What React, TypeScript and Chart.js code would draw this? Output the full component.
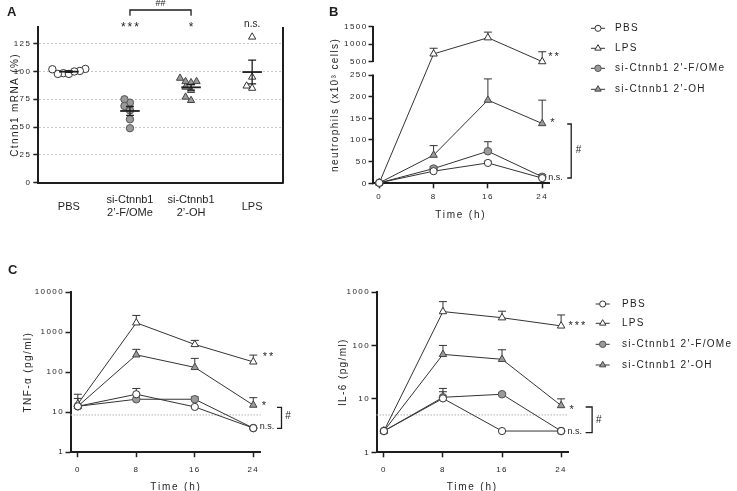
import React, { useEffect, useRef } from "react";
import { Chart, registerables } from "chart.js";

Chart.register(...registerables);

const FONT = "'Liberation Sans', Arial, Helvetica, sans-serif";
const INK = "#1e1e1e";
const LINE = "#333333";
Chart.defaults.font.family = FONT;

// ---------- shared ----------
const seriesNames = ["PBS", "LPS", "si-Ctnnb1 2'-F/OMe", "si-Ctnnb1 2'-OH"];
const hours = [0, 8, 16, 24];
const hourTicks = [0, 8, 16, 24];

// ---------- Panel A ----------
const aGroupLabels = [["PBS"], ["si-Ctnnb1", "2’-F/OMe"], ["si-Ctnnb1", "2’-OH"], ["LPS"]];
const aPBS = [102.3, 100.5, 98.5, 97.8, 97.8, 100, 102];
const aSiFOMe = [72, 75, 69, 65, 57, 49];
const aSiOH = [91, 90, 94, 91, 74, 77, 83, 86];
const aLPS = [131, 95, 85, 87];
const aYTicks = [0, 25, 50, 75, 100, 125];
const aSignif = ["", "***", "*", "n.s."];
const aBracket = "##";

// ---------- Panel B ----------
const bPBS = [1, 28, 47, 12];
const bPBSErr = [0, 3, 4, 2];
const bLPS = [1, 720, 1180, 500];
const bLPSErr = [0, 160, 160, 280];
const bSiFOMe = [1, 34, 74, 15];
const bSiFOMeErr = [0, 4, 22, 5];
const bSiOH = [1, 65, 192, 138];
const bSiOHErr = [0, 22, 49, 54];
const bYTicks = [0, 50, 100, 150, 200, 250, 500, 1000, 1500];
const bSignif = ["**", "*", "n.s."];
const bBracket = "#";

// ---------- Panel C: TNF-α ----------
const tnfPBS = [14, 28, 13.5, 4];
const tnfPBSErr = [0, 11, 0, 0];
const tnfLPS = [16, 1700, 490, 180];
const tnfLPSErr = [12, 900, 130, 86];
const tnfSiFOMe = [14, 21, 21, 4];
const tnfSiFOMeErr = [0, 0, 3, 0];
const tnfSiOH = [14, 270, 131, 15];
const tnfSiOHErr = [8, 100, 89, 8];
const tnfLimit = 8.5;
const tnfYTicks = [1, 10, 100, 1000, 10000];
const tnfSignif = ["**", "*", "n.s."];

// ---------- Panel C: IL-6 ----------
const il6PBS = [2.5, 10.2, 2.5, 2.5];
const il6PBSErr = [0, 3.4, 0, 0];
const il6LPS = [2.5, 430, 330, 232];
const il6LPSErr = [0, 230, 107, 140];
const il6SiFOMe = [2.5, 10.7, 12.2, 2.5];
const il6SiFOMeErr = [0, 5, 0.8, 0];
const il6SiOH = [2.5, 68, 55, 7.5];
const il6SiOHErr = [0, 32, 28, 2.5];
const il6Limit = 5;
const il6YTicks = [1, 10, 100, 1000];
const il6Signif = ["***", "*", "n.s."];

const cBracket = "#";

// marker styles: PBS, LPS, F/OMe, OH
const STYLES = [
  { shape: "circle", fill: "#ffffff", stroke: "#333333", r: 3.6 },
  { shape: "triangle", fill: "#ffffff", stroke: "#333333", r: 4.3 },
  { shape: "circle", fill: "#9a9a9a", stroke: "#555555", r: 3.8 },
  { shape: "triangle", fill: "#9a9a9a", stroke: "#444444", r: 4.3 },
];

// broken axis mapping for panel B (0-250 | break | 500-1500)
const bV = (v: number) => (v <= 250 ? v : 250 + 31 + (v - 500) * 0.081);

// ---------- helpers ----------
function drawText(ctx: any, s: string, x: number, y: number, o: any = {}) {
  ctx.save();
  ctx.letterSpacing = `${o.spacing ?? 0}px`;
  ctx.font = `${o.bold ? "bold " : ""}${o.size ?? 10}px ${FONT}`;
  ctx.fillStyle = INK;
  ctx.textAlign = o.align ?? "left";
  ctx.textBaseline = o.baseline ?? "middle";
  ctx.fillText(s, x, y);
  ctx.restore();
}

function drawStars(ctx: any, s: string, x: number, yc: number, align: string = "left", size = 11, spacing = 2) {
  drawText(ctx, s, x, yc + 0.55 * size, { size, spacing, align, baseline: "alphabetic" });
}

function drawMarker(ctx: any, shape: string, x: number, y: number, r: number, fill: string, stroke: string) {
  ctx.save();
  ctx.beginPath();
  if (shape === "circle") {
    ctx.arc(x, y, r, 0, Math.PI * 2);
  } else {
    for (let k = 0; k < 3; k++) {
      const a = (k * 2 * Math.PI) / 3;
      const px = x + Math.sin(a) * r;
      const py = y - Math.cos(a) * r;
      if (k === 0) ctx.moveTo(px, py);
      else ctx.lineTo(px, py);
    }
  }
  ctx.closePath();
  ctx.fillStyle = fill;
  ctx.fill();
  ctx.lineWidth = 1;
  ctx.strokeStyle = stroke;
  ctx.stroke();
  ctx.restore();
}

function drawLegend(ctx: any, symX: number, textX: number, rows: number[]) {
  seriesNames.forEach((name, i) => {
    const y = rows[i];
    const st = STYLES[i];
    ctx.save();
    ctx.strokeStyle = LINE;
    ctx.lineWidth = 1;
    ctx.beginPath();
    ctx.moveTo(symX - 7, y);
    ctx.lineTo(symX + 7, y);
    ctx.stroke();
    ctx.restore();
    drawMarker(ctx, st.shape, symX, y, st.r * 0.85, st.fill, st.stroke);
    drawText(ctx, name, textX, y, { size: 10, spacing: 1.3 });
  });
}

function vBracket(ctx: any, x: number, y1: number, y2: number, stub: number) {
  ctx.save();
  ctx.strokeStyle = INK;
  ctx.lineWidth = 1.3;
  ctx.beginPath();
  ctx.moveTo(x - stub, y1);
  ctx.lineTo(x, y1);
  ctx.lineTo(x, y2);
  ctx.lineTo(x - stub, y2);
  ctx.stroke();
  ctx.restore();
}

function mean(v: number[]) {
  return v.reduce((a, b) => a + b, 0) / v.length;
}
function sem(v: number[]) {
  const m = mean(v);
  const sd = Math.sqrt(v.reduce((a, b) => a + (b - m) * (b - m), 0) / (v.length - 1));
  return sd / Math.sqrt(v.length);
}

// simple beeswarm spread (category units)
function swarmOffsets(vals: number[]) {
  const step = 0.09;
  const pxX = 61;
  const pxY = 1.11;
  const minD = 5.5;
  const order = vals.map((_, i) => i).sort((a, b) => vals[a] - vals[b]);
  const placed: { x: number; y: number }[] = [];
  const out = new Array(vals.length).fill(0);
  for (const i of order) {
    for (let k = 0; k < 30; k++) {
      const off = k === 0 ? 0 : (k % 2 ? -1 : 1) * Math.ceil(k / 2) * step;
      const ok = placed.every((p) => Math.hypot((p.x - off) * pxX, (p.y - vals[i]) * pxY) >= minD);
      if (ok) {
        out[i] = off;
        placed.push({ x: off, y: vals[i] });
        break;
      }
    }
  }
  return out;
}

// ---------- plugins ----------
const spacingPlugin = {
  id: "spacing",
  beforeDraw(chart: any, _a: any, opts: any) {
    chart.ctx.letterSpacing = `${opts && opts.px != null ? opts.px : 0}px`;
  },
};

const errorBarPlugin = {
  id: "errorBars",
  beforeDatasetsDraw(chart: any) {
    const ctx = chart.ctx;
    const yScale = chart.scales.y;
    chart.data.datasets.forEach((ds: any, i: number) => {
      if (!ds.errTop) return;
      const meta = chart.getDatasetMeta(i);
      meta.data.forEach((pt: any, j: number) => {
        const top = ds.errTop[j];
        if (top == null) return;
        const yTop = yScale.getPixelForValue(top);
        if (pt.y - yTop < 1) return;
        ctx.save();
        ctx.strokeStyle = LINE;
        ctx.lineWidth = 1;
        ctx.beginPath();
        ctx.moveTo(pt.x, pt.y);
        ctx.lineTo(pt.x, yTop);
        ctx.moveTo(pt.x - 4, yTop);
        ctx.lineTo(pt.x + 4, yTop);
        ctx.stroke();
        ctx.restore();
      });
    });
  },
};

function drawLimit(chart: any, value: number) {
  const { ctx, chartArea, scales } = chart;
  const y = scales.y.getPixelForValue(value);
  ctx.save();
  ctx.strokeStyle = "#b0b0b0";
  ctx.lineWidth = 1;
  ctx.setLineDash([1.5, 1.5]);
  ctx.beginPath();
  ctx.moveTo(chartArea.left, y);
  ctx.lineTo(chartArea.right, y);
  ctx.stroke();
  ctx.restore();
}

function lineDataset(i: number, vals: number[], errs: number[], map: (v: number) => number) {
  const st = STYLES[i];
  return {
    label: seriesNames[i],
    data: hours.map((h, k) => ({ x: h, y: map(vals[k]) })),
    errTop: vals.map((v, k) => (errs[k] > 0 ? map(v + errs[k]) : null)),
    borderColor: LINE,
    borderWidth: 1,
    tension: 0,
    fill: false,
    pointStyle: st.shape,
    pointRadius: st.r,
    pointBackgroundColor: st.fill,
    pointBorderColor: st.stroke,
    pointBorderWidth: 1,
    clip: false,
  };
}

function lineConfig(p: any) {
  return {
    type: "line",
    data: { datasets: p.datasets },
    options: {
      responsive: false,
      animation: false,
      devicePixelRatio: 1,
      events: [],
      layout: { padding: p.padding },
      plugins: {
        legend: { display: false },
        tooltip: { enabled: false },
        title: { display: false },
        spacing: { px: 1.4 },
      },
      scales: {
        x: {
          type: "linear",
          min: -1,
          max: 25,
          afterFit: (s: any) => {
            s.height = p.xHeight;
          },
          afterBuildTicks: (s: any) => {
            s.ticks = hourTicks.map((v) => ({ value: v }));
          },
          ticks: {
            color: INK,
            font: { family: FONT, size: 8 },
            padding: p.xTickPad,
            maxRotation: 0,
            autoSkip: false,
            callback: (v: any) => String(v),
          },
          grid: { display: true, drawOnChartArea: false, drawTicks: true, tickLength: 5, tickWidth: 1.5, tickColor: INK },
          border: { display: true, width: 2, color: INK },
        },
        y: {
          type: p.yType,
          min: p.yMin,
          max: p.yMax,
          afterFit: (s: any) => {
            s.width = p.yWidth;
          },
          afterBuildTicks: (s: any) => {
            s.ticks = p.yTickValues.map((v: number) => ({ value: v }));
          },
          ticks: {
            color: INK,
            font: { family: FONT, size: 8 },
            padding: p.yTickPad,
            autoSkip: false,
            callback: (v: any) => p.yLabel(Number(v)),
          },
          grid: { display: true, drawOnChartArea: false, drawTicks: true, tickLength: p.yTickLen, tickWidth: 1.5, tickColor: INK },
          border: { display: p.yBorder, width: 2, color: INK },
          title: {
            display: true,
            text: p.yTitle,
            color: INK,
            font: { family: FONT, size: 10 },
            padding: { top: p.yTitlePad, bottom: 0 },
          },
        },
      },
    },
    plugins: [spacingPlugin, errorBarPlugin, p.plugin],
  };
}

// ---------- Panel A ----------
function configA() {
  const groups = [aPBS, aSiFOMe, aSiOH, aLPS];
  const styleIdx = [0, 2, 3, 1];
  const datasets = groups.map((vals, gi) => {
    const st = STYLES[styleIdx[gi]];
    const offs = swarmOffsets(vals);
    return {
      type: "scatter",
      data: vals.map((v, k) => ({ x: gi + offs[k], y: v })),
      pointStyle: st.shape,
      pointRadius: st.shape === "circle" ? 3.7 : 4.2,
      pointBackgroundColor: st.fill,
      pointBorderColor: st.stroke,
      pointBorderWidth: 1,
      clip: false,
    };
  });

  const plugin = {
    id: "panelA",
    afterDatasetsDraw(chart: any) {
      const { ctx, scales } = chart;
      const x = scales.x;
      const y = scales.y;
      groups.forEach((vals, gi) => {
        const m = mean(vals);
        const se = sem(vals);
        const cx = x.getPixelForValue(gi);
        const half = x.getPixelForValue(gi + 0.16) - cx;
        const cap = x.getPixelForValue(gi + 0.065) - cx;
        ctx.save();
        ctx.strokeStyle = INK;
        ctx.lineWidth = 1.8;
        ctx.beginPath();
        ctx.moveTo(cx - half, y.getPixelForValue(m));
        ctx.lineTo(cx + half, y.getPixelForValue(m));
        ctx.stroke();
        ctx.lineWidth = 1.3;
        ctx.beginPath();
        ctx.moveTo(cx, y.getPixelForValue(m - se));
        ctx.lineTo(cx, y.getPixelForValue(m + se));
        ctx.moveTo(cx - cap, y.getPixelForValue(m - se));
        ctx.lineTo(cx + cap, y.getPixelForValue(m - se));
        ctx.moveTo(cx - cap, y.getPixelForValue(m + se));
        ctx.lineTo(cx + cap, y.getPixelForValue(m + se));
        ctx.stroke();
        ctx.restore();
      });
    },
    afterDraw(chart: any) {
      const { ctx, chartArea, scales } = chart;
      const x = scales.x;
      // right frame line
      ctx.save();
      ctx.strokeStyle = INK;
      ctx.lineWidth = 2;
      ctx.beginPath();
      const rx = Math.round(chartArea.right);
      ctx.moveTo(rx, chartArea.top);
      ctx.lineTo(rx, chartArea.bottom + 1);
      ctx.stroke();
      ctx.restore();
      // category labels
      aGroupLabels.forEach((lines, gi) => {
        const cx = x.getPixelForValue(gi);
        lines.forEach((ln, k) => {
          const yy = chartArea.bottom + 23.8 + (k - (lines.length - 1) / 2) * 12.2;
          drawText(ctx, ln, cx, yy, { size: 11, align: "center" });
        });
      });
      // significance marks
      aSignif.forEach((s, gi) => {
        if (!s) return;
        const cx = x.getPixelForValue(gi);
        if (s.startsWith("*")) drawStars(ctx, s, cx + 1, 24.2, "center", 12, 2);
        else drawText(ctx, s, cx, 26.7, { size: 10, align: "center", baseline: "alphabetic" });
      });
      // bracket between si groups
      const x1 = x.getPixelForValue(1);
      const x2 = x.getPixelForValue(2);
      ctx.save();
      ctx.strokeStyle = INK;
      ctx.lineWidth = 1.3;
      ctx.beginPath();
      ctx.moveTo(x1, 15.7);
      ctx.lineTo(x1, 10);
      ctx.lineTo(x2, 10);
      ctx.lineTo(x2, 15.7);
      ctx.stroke();
      ctx.restore();
      drawText(ctx, aBracket, (x1 + x2) / 2, 5.5, { size: 9, align: "center", baseline: "alphabetic" });
      drawText(ctx, "A", 7, 15.5, { size: 13, bold: true, baseline: "alphabetic" });
    },
  };

  return {
    type: "scatter",
    data: { datasets },
    options: {
      responsive: false,
      animation: false,
      devicePixelRatio: 1,
      events: [],
      layout: { padding: { left: 0, top: 27, right: 17.3, bottom: 0 } },
      plugins: {
        legend: { display: false },
        tooltip: { enabled: false },
        spacing: { px: 1.4 },
      },
      scales: {
        x: {
          type: "linear",
          min: -0.5,
          max: 3.5,
          afterFit: (s: any) => {
            s.height = 47.3;
          },
          ticks: { display: false },
          grid: { display: false },
          border: { display: true, width: 2, color: INK },
        },
        y: {
          type: "linear",
          min: 0,
          max: 140,
          afterFit: (s: any) => {
            s.width = 38.3;
          },
          afterBuildTicks: (s: any) => {
            s.ticks = aYTicks.map((v) => ({ value: v }));
          },
          ticks: { color: INK, font: { family: FONT, size: 8 }, padding: 2, autoSkip: false },
          grid: {
            display: true,
            drawOnChartArea: true,
            drawTicks: true,
            tickLength: 5,
            tickWidth: 1.5,
            tickColor: INK,
            lineWidth: 1,
            color: (c: any) => (c.tick && c.tick.value === 0 ? "rgba(0,0,0,0)" : "#c6c6c6"),
          },
          border: { display: true, width: 2, color: INK, dash: [2, 2] },
          title: {
            display: true,
            text: "Ctnnb1 mRNA (%)",
            color: INK,
            font: { family: FONT, size: 10 },
            padding: { top: 9, bottom: 0 },
          },
        },
      },
    },
    plugins: [spacingPlugin, plugin],
  };
}

// ---------- Panel B ----------
function configB() {
  const datasets = [
    lineDataset(0, bPBS, bPBSErr, bV),
    lineDataset(1, bLPS, bLPSErr, bV),
    lineDataset(2, bSiFOMe, bSiFOMeErr, bV),
    lineDataset(3, bSiOH, bSiOHErr, bV),
  ];
  const plugin = {
    id: "panelB",
    afterDraw(chart: any) {
      const { ctx, chartArea, scales } = chart;
      const x = scales.x;
      const y = scales.y;
      const ax = Math.round(chartArea.left);
      ctx.save();
      ctx.strokeStyle = INK;
      ctx.lineWidth = 2;
      ctx.beginPath();
      ctx.moveTo(ax, y.getPixelForValue(bV(0)) + 1);
      ctx.lineTo(ax, y.getPixelForValue(bV(250)) - 0.5);
      ctx.moveTo(ax, y.getPixelForValue(bV(500)) + 0.5);
      ctx.lineTo(ax, y.getPixelForValue(bV(1500)) - 0.5);
      ctx.stroke();
      ctx.restore();

      drawText(ctx, "B", 39, 15.5, { size: 13, bold: true, baseline: "alphabetic" });
      drawText(ctx, "Time (h)", 170.8, 215.5, { size: 10, spacing: 1.8, align: "center" });
      drawLegend(ctx, 308, 325, [28.3, 48.3, 68.3, 89.3]);

      const x24 = x.getPixelForValue(24);
      drawStars(ctx, bSignif[0], x24 + 6, y.getPixelForValue(bV(bLPS[3])) - 8, "left", 11, 2);
      drawStars(ctx, bSignif[1], x24 + 8, y.getPixelForValue(bV(bSiOH[3])) - 4, "left", 11, 2);
      drawText(ctx, bSignif[2], x24 + 6, y.getPixelForValue(bV(bSiFOMe[3])) + 3.5, { size: 9, baseline: "alphabetic" });
      vBracket(ctx, x24 + 29, 124, 178, 4);
      drawText(ctx, bBracket, x24 + 33.5, 150, { size: 10 });
    },
  };
  return lineConfig({
    datasets,
    padding: { left: 0, top: 26.5, right: 188, bottom: 0 },
    xHeight: 46.7,
    yWidth: 82.5,
    xTickPad: 3.9,
    yTickPad: 1,
    yTickLen: 4,
    yType: "linear",
    yMin: 0,
    yMax: bV(1500),
    yTickValues: bYTicks.map(bV),
    yLabel: (v: number) => {
      const t = bYTicks.find((t) => Math.abs(bV(t) - v) < 1e-6);
      return t === undefined ? "" : String(t);
    },
    yBorder: false,
    yTitle: "neutrophils (x10³ cells)",
    yTitlePad: 39,
    plugin,
  });
}

// ---------- Panel C (TNF) ----------
function configCLeft() {
  const id = (v: number) => v;
  const datasets = [
    lineDataset(0, tnfPBS, tnfPBSErr, id),
    lineDataset(1, tnfLPS, tnfLPSErr, id),
    lineDataset(2, tnfSiFOMe, tnfSiFOMeErr, id),
    lineDataset(3, tnfSiOH, tnfSiOHErr, id),
  ];
  const plugin = {
    id: "panelCL",
    beforeDatasetsDraw(chart: any) {
      drawLimit(chart, tnfLimit);
    },
    afterDraw(chart: any) {
      const { ctx, scales } = chart;
      const x = scales.x;
      const y = scales.y;
      drawText(ctx, "C", 8, 23.5, { size: 13, bold: true, baseline: "alphabetic" });
      drawText(ctx, "Time (h)", 176, 237, { size: 10, spacing: 1.8, align: "center" });
      const x24 = x.getPixelForValue(24);
      drawStars(ctx, tnfSignif[0], x24 + 9.5, y.getPixelForValue(tnfLPS[3]) - 7.5, "left", 11, 2);
      drawStars(ctx, tnfSignif[1], x24 + 8.5, y.getPixelForValue(tnfSiOH[3]) - 2.5, "left", 11, 2);
      drawText(ctx, tnfSignif[2], x24 + 6.5, y.getPixelForValue(tnfPBS[3]) + 1.2, { size: 9, baseline: "alphabetic" });
      vBracket(ctx, x24 + 28.2, 157.3, 178.3, 4.5);
      drawText(ctx, cBracket, x24 + 32, 166.7, { size: 10 });
    },
  };
  return lineConfig({
    datasets,
    padding: { left: 0, top: 42, right: 69.4, bottom: 0 },
    xHeight: 38.8,
    yWidth: 70.5,
    xTickPad: 8,
    yTickPad: 1.5,
    yTickLen: 5,
    yType: "logarithmic",
    yMin: 1,
    yMax: 10000,
    yTickValues: tnfYTicks,
    yLabel: (v: number) => String(Math.round(v)),
    yBorder: true,
    yTitle: "TNF-α (pg/ml)",
    yTitlePad: 22,
    plugin,
  });
}

// ---------- Panel C (IL-6) ----------
function configCRight() {
  const id = (v: number) => v;
  const datasets = [
    lineDataset(0, il6PBS, il6PBSErr, id),
    lineDataset(1, il6LPS, il6LPSErr, id),
    lineDataset(2, il6SiFOMe, il6SiFOMeErr, id),
    lineDataset(3, il6SiOH, il6SiOHErr, id),
  ];
  const plugin = {
    id: "panelCR",
    beforeDatasetsDraw(chart: any) {
      drawLimit(chart, il6Limit);
    },
    afterDraw(chart: any) {
      const { ctx, scales } = chart;
      const x = scales.x;
      const y = scales.y;
      drawText(ctx, "Time (h)", 142.3, 237, { size: 10, spacing: 1.8, align: "center" });
      drawLegend(ctx, 272.7, 292, [54, 73.3, 94.3, 115]);
      const x24 = x.getPixelForValue(24);
      drawStars(ctx, il6Signif[0], x24 + 7.3, y.getPixelForValue(il6LPS[3]) - 3, "left", 11, 2);
      drawStars(ctx, il6Signif[1], x24 + 8.3, y.getPixelForValue(il6SiOH[3]) + 1, "left", 11, 2);
      drawText(ctx, il6Signif[2], x24 + 6.3, y.getPixelForValue(il6PBS[3]) + 3.3, { size: 9, baseline: "alphabetic" });
      vBracket(ctx, x24 + 31, 157, 182.7, 6.5);
      drawText(ctx, cBracket, x24 + 35, 170, { size: 10 });
    },
  };
  return lineConfig({
    datasets,
    padding: { left: 0, top: 42, right: 168.5, bottom: 0 },
    xHeight: 38.7,
    yWidth: 46.5,
    xTickPad: 8,
    yTickPad: 1.5,
    yTickLen: 5,
    yType: "logarithmic",
    yMin: 1,
    yMax: 1000,
    yTickValues: il6YTicks,
    yLabel: (v: number) => String(Math.round(v)),
    yBorder: true,
    yTitle: "IL-6 (pg/ml)",
    yTitlePad: 7,
    plugin,
  });
}

function ChartCanvas(props: { make: () => any; left: number; top: number; width: number; height: number }) {
  const ref = useRef<HTMLCanvasElement>(null);
  useEffect(() => {
    const chart = new Chart(ref.current as HTMLCanvasElement, props.make());
    return () => chart.destroy();
  }, []);
  return (
    <canvas
      ref={ref}
      width={props.width}
      height={props.height}
      style={{ position: "absolute", left: props.left, top: props.top, width: props.width, height: props.height }}
    />
  );
}

export default function App() {
  return (
    <div style={{ position: "fixed", left: 0, top: 0, width: 737, height: 491, overflow: "hidden", background: "#ffffff" }}>
      <ChartCanvas make={configA} left={0} top={0} width={300} height={230} />
      <ChartCanvas make={configB} left={290} top={0} width={447} height={230} />
      <ChartCanvas make={configCLeft} left={0} top={250} width={330} height={241} />
      <ChartCanvas make={configCRight} left={330} top={250} width={407} height={241} />
    </div>
  );
}
